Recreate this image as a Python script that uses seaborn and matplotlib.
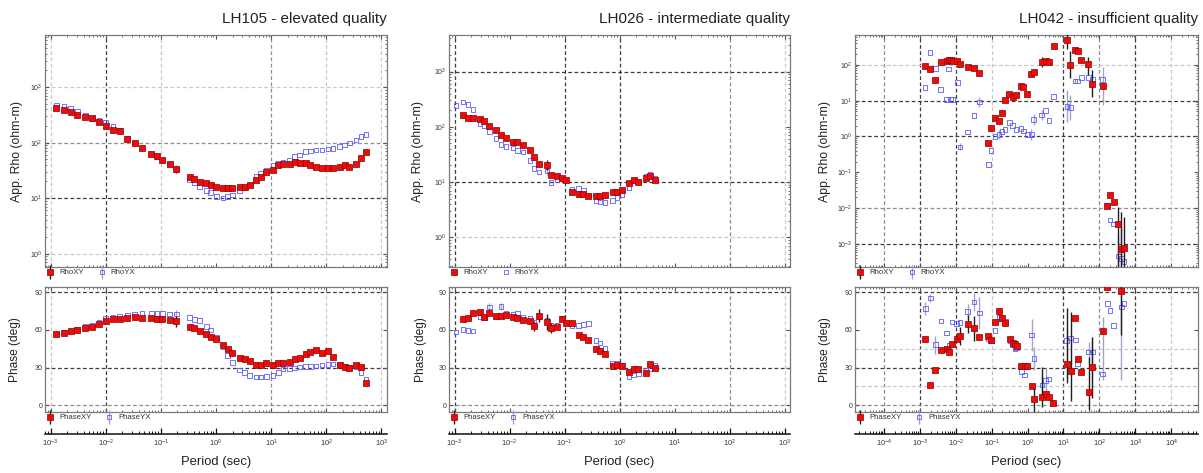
import numpy as np
import pandas as pd
import matplotlib
matplotlib.use("Agg")
import matplotlib.pyplot as plt
import seaborn as sns
from matplotlib.lines import Line2D
from matplotlib.legend_handler import HandlerTuple
from matplotlib.ticker import LogLocator, NullFormatter, FixedLocator

# ---- data --------------------------------------------------------------
# periods are stored as log10(T [s]), apparent resistivity as log10(ohm-m)

# LH105 - elevated quality
lh105_logT = [-2.894, -2.755, -2.634, -2.513, -2.368, -2.242, -2.121, -2.0, -1.867, -1.746,
              -1.607, -1.475, -1.342, -1.173, -1.07, -0.973, -0.841, -0.72, -0.478, -0.394,
              -0.297, -0.176, -0.098, 0.005, 0.126, 0.21, 0.295, 0.428, 0.518, 0.609,
              0.729, 0.808, 0.911, 1.031, 1.128, 1.213, 1.333, 1.424, 1.514, 1.623,
              1.708, 1.816, 1.925, 2.028, 2.118, 2.239, 2.33, 2.42, 2.541, 2.632, 2.722]
lh105_rho_xy = [2.622, 2.58, 2.55, 2.50, 2.465, 2.44, 2.375, 2.30, 2.22, 2.21,
                2.075, 1.99, 1.907, 1.793, 1.751, 1.685, 1.613, 1.517, 1.384, 1.348,
                1.30, 1.27, 1.24, 1.198, 1.18, 1.18, 1.18, 1.198, 1.21, 1.234,
                1.336, 1.39, 1.48, 1.51, 1.589, 1.607, 1.607, 1.649, 1.631, 1.625,
                1.595, 1.559, 1.547, 1.547, 1.535, 1.559, 1.595, 1.559, 1.619, 1.727, 1.823]
lh105_rho_yx = [2.682, 2.652, 2.616, 2.562, 2.489, 2.441, 2.399, 2.363, 2.291, 2.231,
                2.075, 1.991, 1.907, 1.799, 1.751, 1.685, 1.613, 1.529, 1.33, 1.282,
                1.21, 1.138, 1.102, 1.03, 1.0, 1.03, 1.06, 1.138, 1.186, 1.234,
                1.39, 1.45, 1.51, 1.60, 1.631, 1.643, 1.691, 1.751, 1.781, 1.841,
                1.853, 1.871, 1.871, 1.883, 1.895, 1.931, 1.961, 1.991, 2.051, 2.111, 2.147]
lh105_phs_xy = [56.6, 57.6, 58.7, 59.5, 61.6, 62.1, 64.7, 66.8, 68.2, 68.4,
                69.7, 70.3, 69.7, 69.2, 68.9, 68.4, 67.6, 66.8, 62.1, 61.1,
                59.2, 56.6, 54.5, 52.6, 47.9, 44.7, 41.8, 37.6, 36.6, 35.3,
                32.1, 32.1, 33.4, 31.8, 33.4, 33.4, 34.7, 37.1, 37.9, 40.8,
                42.6, 43.7, 41.3, 42.9, 38.7, 32.4, 30.5, 29.5, 31.8, 30.5, 17.9]
lh105_phs_yx = [56.6, 57.9, 59.2, 60.3, 62.4, 63.7, 65.8, 69.0, 70.3, 70.8,
                71.8, 72.4, 72.9, 72.9, 72.9, 72.9, 72.4, 72.4, 69.7, 68.4,
                67.6, 62.4, 59.7, 53.9, 46.6, 39.5, 34.2, 28.2, 26.0, 23.7,
                22.4, 22.4, 22.9, 23.7, 26.3, 28.9, 29.2, 29.7, 30.3, 30.8,
                30.8, 31.3, 32.1, 32.4, 32.9, 32.4, 31.3, 30.3, 30.3, 26.3, 21.0]
# error bars: {index: err} or {index: (lower, upper)}; rho in decades, phase in degrees
lh105_rho_xy_err = {17: 0.07}
lh105_rho_yx_err = {17: 0.06}
lh105_phs_xy_err = {17: 4.5}
lh105_phs_yx_err = {17: 3.0}

# LH026 - intermediate quality
lh026_logT = [-2.970, -2.848, -2.758, -2.667, -2.533, -2.455, -2.364, -2.242, -2.158, -2.067,
              -1.939, -1.855, -1.758, -1.624, -1.552, -1.461, -1.321, -1.248, -1.139, -1.048,
              -0.970, -0.867, -0.745, -0.655, -0.564, -0.424, -0.352, -0.261, -0.127, -0.048,
              0.042, 0.170, 0.255, 0.345, 0.479, 0.558, 0.648]
lh026_rho_xy = [np.nan, 2.207, 2.165, 2.159, 2.147, 2.105, 2.009, 1.943, 1.847, 1.793,
                1.721, 1.721, 1.667, 1.577, 1.456, 1.324, 1.312, 1.132, 1.108, 1.078,
                1.036, 0.826, 0.784, 0.784, 0.754, 0.742, 0.742, 0.760, 0.826, 0.826,
                0.856, 0.976, 1.03, 1.0, 1.078, 1.108, 1.03]
lh026_rho_yx = [2.381, 2.447, 2.405, 2.309, 2.057, 2.027, 1.919, 1.787, 1.685, 1.649,
                1.619, 1.577, 1.547, 1.396, 1.246, 1.186, 1.204, 0.988, 1.036, 1.066,
                1.036, 0.868, 0.88, 0.844, 0.748, 0.664, 0.640, 0.634, 0.664, 0.724,
                0.778, 0.898, 1.018, 1.0, 1.114, 1.144, 1.066]
lh026_phs_xy = [np.nan, 68.3, 69.4, 73.6, 74.4, 70.2, 73.6, 70.7, 71.2, 71.5,
                70.2, 69.4, 68.1, 67.0, 63.3, 71.2, 66.2, 61.7, 62.5, 68.9,
                65.4, 65.4, 55.7, 54.4, 52.2, 44.6, 43.3, 40.4, 30.9, 31.9,
                31.4, 26.6, 28.5, 28.5, 25.9, 33.2, 29.8]
lh026_phs_yx = [58.3, 60.2, 59.6, 59.1, 70.2, 69.7, 78.1, 70.7, 78.6, 72.8,
                72.3, 73.4, 70.2, 68.9, 66.2, 70.2, 67.5, 63.6, 63.6, 68.9,
                65.4, 63.1, 63.6, 64.4, 64.9, 51.7, 49.6, 45.1, 33.2, 33.2,
                31.9, 22.7, 24.0, 25.3, 28.0, 29.3, 31.9]
lh026_rho_xy_err = {14: 0.06, 16: 0.09}
lh026_rho_yx_err = {16: 0.08}
lh026_phs_xy_err = {14: 4.0, 15: 5.0, 16: 6.5, 17: 4.0}
lh026_phs_yx_err = {6: 3.0, 8: 3.0}

# LH042 - insufficient quality
lh042_logT = [-2.862, -2.723, -2.574, -2.426, -2.258, -2.203, -2.147, -2.091, -1.961, -1.887,
              -1.673, -1.496, -1.348, -1.097, -1.022, -0.911, -0.799, -0.716, -0.632, -0.511,
              -0.418, -0.325, -0.186, -0.121, -0.009, 0.102, 0.167, 0.390, 0.502, 0.595,
              0.725, 1.097, 1.190, 1.320, 1.394, 1.496, 1.691, 1.803, 2.091, 2.221,
              2.296, 2.398, 2.528, 2.612, 2.686]
lh042_rho_xy = [1.972, 1.879, 1.564, 2.065, 2.093, 2.139, 2.121, 2.093, 2.102, 2.028,
                1.926, 1.907, 1.777, -0.171, 0.247, 0.525, 0.442, 0.664, 1.017, 1.174,
                1.091, 1.156, 1.416, 1.388, 1.174, 1.740, 1.805, 2.074, 2.102, 2.074,
                2.510, 2.696, 2.0, 2.417, 2.380, 2.121, 2.028, 1.471, 1.416, -1.942,
                -1.646, -1.822, -2.443, -3.138, -3.102]
lh042_rho_yx = [1.36, 2.34, 1.89, 1.31, 1.03, 1.88, 1.03, 1.03, 1.50, -0.29,
                0.126, 0.59, 0.961, -0.774, -0.384, 0.006, 0.06, 0.145, 0.2, 0.386,
                0.302, 0.19, 0.219, 0.15, 0.052, 0.052, 0.469, 0.60, 0.73, 0.451,
                1.119, 0.840, 0.803, 1.55, 1.545, 1.638, 1.638, 1.592, 1.592, -1.915,
                -2.33, -2.44, -3.33, -3.40, -3.49]
lh042_rho_xy_err = {27: 0.13, 31: 0.25, 32: 0.37, 36: (0.32, 0.19), 37: 0.37,
                    42: (6, 0.48), 43: (6, 1.04), 44: (6, 0.86)}
lh042_rho_yx_err = {9: 0.1, 12: 0.15, 16: 0.12, 25: 0.15, 26: 0.15, 27: 0.15, 31: (0.43, 0.45),
                    32: 0.35, 38: (0.72, 0.34), 42: (6, 0.6), 43: (6, 0.9)}
lh042_ph_logT = [-2.853, -2.714, -2.574, -2.416, -2.258, -2.193, -2.110, -1.980, -1.887, -1.673,
                 -1.496, -1.348, -1.097, -1.013, -0.911, -0.790, -0.716, -0.623, -0.493, -0.418,
                 -0.353, -0.307, -0.177, -0.084, -0.009, 0.112, 0.177, 0.400, 0.502, 0.586,
                 0.716, 1.087, 1.199, 1.329, 1.394, 1.487, 1.701, 1.803, 2.091, 2.221,
                 2.30, 2.40, 2.612, 2.69]
lh042_phs_xy = [52.8, 16.4, 28.0, 43.8, 45.1, 42.7, 48.5, 52.8, 55.1, 64.4,
                61.2, 54.6, 55.1, 51.5, 66.5, 74.9, 69.1, 65.7, 52.8, 49.9,
                48.5, 47.2, 31.4, 31.4, 31.4, 15.0, 5.3, 6.6, 9.2, 6.6,
                1.8, 32.7, 27.4, 69.1, 36.7, 26.6, 10.3, 30.1, 59.1, 94.2,
                np.nan, np.nan, 90.8, np.nan]
lh042_phs_yx = [76.7, 85.2, 48.1, 66.9, 57.4, 47.6, 66.1, 64.8, 66.0, 74.6,
                82.0, 73.3, 53.0, 51.5, 59.5, 70.1, 69.0, 66.5, 51.5, 48.0,
                45.0, 45.5, 27.0, 24.0, np.nan, 56.0, 37.0, 16.0, 19.5, 21.0,
                np.nan, 51.6, 53.5, 52.0, 33.0, np.nan, 42.3, 42.3, 25.0, 80.7,
                75.4, 63.5, 78.0, 80.7]
lh042_phs_xy_err = {8: 7, 9: 7, 10: 10, 26: 12, 27: (8, 24), 31: (15, 45), 32: (24, 47),
                    36: (14, 28), 37: 24, 42: (35, 5)}
lh042_phs_yx_err = {0: 5, 1: 3, 2: 7, 9: 6, 10: 7, 11: 13, 15: 4, 25: 12.5, 26: 9, 27: 8,
                    28: 10, 31: (30, 10), 36: 8, 37: (20, 10), 38: (5, 45), 42: (58, 10)}

titles = ["LH105 - elevated quality", "LH026 - intermediate quality", "LH042 - insufficient quality"]

# ---- style ---------------------------------------------------------------
sns.set_style("ticks")
plt.rcParams['font.family'] = ['Liberation Sans', 'DejaVu Sans']
plt.rcParams['mathtext.fontset'] = 'custom'
plt.rcParams['mathtext.rm'] = 'Liberation Sans'
plt.rcParams['mathtext.it'] = 'Liberation Sans:italic'

RED, RED_EDGE, BLUE = '#f00a0a', '#8a0000', '#5c5cff'
XY_BAR, YX_BAR = '#1e1e1e', '#a4a4c4'
GRID = {'dark': '#3c3c3c', 'mid': '#8e8e8e', 'light': '#c9c9c9'}
TXT = '#333333'

W, H = 1203, 473
fig = plt.figure(figsize=(W / 100, H / 100), dpi=100)


def bounds(vals, err, log):
    v = np.asarray(vals, float)
    lo, hi = np.zeros(len(v)), np.zeros(len(v))
    for i, e in err.items():
        lo[i], hi[i] = (e, e) if np.isscalar(e) else e
    if log:
        y = 10 ** v
        return y, np.vstack([y - y * 10 ** (-lo), y * 10 ** hi - y])
    return v, np.vstack([lo, hi])


def draw(ax, logT, vals, err, log, comp):
    x = 10 ** np.asarray(logT, float)
    y, yerr = bounds(vals, err, log)
    if comp == 'yx':
        ax.errorbar(x, y, yerr=yerr, fmt='none', ecolor=YX_BAR, elinewidth=1.0, capsize=0, zorder=2)
    else:
        ax.errorbar(x, y, yerr=yerr, fmt='none', ecolor=XY_BAR, elinewidth=1.0, capsize=0, zorder=4)
    df = pd.DataFrame({'period': x, 'value': y}).dropna()
    if comp == 'yx':
        sns.scatterplot(data=df, x='period', y='value', ax=ax, marker='s', s=11,
                        facecolors='none', edgecolor=BLUE, linewidth=0.6, zorder=3, legend=False)
    else:
        sns.scatterplot(data=df, x='period', y='value', ax=ax, marker='s', s=16,
                        color=RED, edgecolor=RED_EDGE, linewidth=0.5, zorder=5, legend=False)
    ax.set_xlabel('')
    ax.set_ylabel('')


def gridlines(ax, vlines, hlines, log_y):
    for lvl, vals in vlines.items():
        for v in vals:
            ax.axvline(10.0 ** v, color=GRID[lvl], lw=0.9, ls=(0, (3, 2)), zorder=0.5)
    for lvl, vals in hlines.items():
        for v in vals:
            ax.axhline(10.0 ** v if log_y else v, color=GRID[lvl], lw=0.9, ls=(0, (3, 2)), zorder=0.5)


def decade_ticks(axis, lim):
    lo, hi = int(np.ceil(lim[0])), int(np.floor(lim[1]))
    axis.set_major_locator(FixedLocator(10.0 ** np.arange(lo, hi + 1)))
    axis.set_minor_locator(LogLocator(base=10, subs=np.arange(2, 10), numticks=30))
    axis.set_minor_formatter(NullFormatter())


def frame(ax):
    for s in ax.spines.values():
        s.set_color('#7a7a7a')
        s.set_linewidth(0.9)
    ax.tick_params(which='both', direction='in', top=True, right=True, labelbottom=False,
                   color='#555555', labelcolor=TXT, labelsize=5.0, pad=2)
    ax.tick_params(which='major', length=3)
    ax.tick_params(which='minor', length=1.6)


def legend(ax, names, with_bar, y):
    hs = []
    for comp, bar in zip(['xy', 'yx'], with_bar):
        if comp == 'xy':
            mk = Line2D([], [], marker='s', ls='', ms=4.0, mfc=RED, mec=RED_EDGE, mew=0.5)
            vb = Line2D([], [], marker='|', ls='', ms=10, color=XY_BAR, mew=1.0)
        else:
            mk = Line2D([], [], marker='s', ls='', ms=3.3, mfc='none', mec=BLUE, mew=0.6)
            vb = Line2D([], [], marker='|', ls='', ms=10, color=YX_BAR, mew=1.0)
        hs.append((vb, mk) if bar else mk)
    ax.legend(hs, names, handler_map={tuple: HandlerTuple(ndivide=1)}, loc='upper left',
              bbox_to_anchor=(0.0, y), ncol=2, frameon=False, fontsize=5.6, labelcolor=TXT,
              handlelength=1.0, handletextpad=0.7, columnspacing=1.8, borderaxespad=0, borderpad=0.1)


panels = [
    dict(left=45, width=342, title=titles[0], xlim=(-3.1, 3.1), rylim=(-0.24, 3.94),
         logT=lh105_logT, rxy=lh105_rho_xy, ryx=lh105_rho_yx, rxy_e=lh105_rho_xy_err, ryx_e=lh105_rho_yx_err,
         plogT=lh105_logT, pxy=lh105_phs_xy, pyx=lh105_phs_yx, pxy_e=lh105_phs_xy_err, pyx_e=lh105_phs_yx_err,
         vgrid={'dark': [-2], 'mid': [1], 'light': [-3, -1, 2, 3]},
         rgrid={'dark': [1], 'mid': [2], 'light': [0, 3]},
         pgrid={'dark': [90, 30], 'mid': [0]}, rbar=(True, True), lab_r=17, lab_p=15),
    dict(left=449, width=341, title=titles[1], xlim=(-3.1, 3.1), rylim=(-0.535, 3.66),
         logT=lh026_logT, rxy=lh026_rho_xy, ryx=lh026_rho_yx, rxy_e=lh026_rho_xy_err, ryx_e=lh026_rho_yx_err,
         plogT=lh026_logT, pxy=lh026_phs_xy, pyx=lh026_phs_yx, pxy_e=lh026_phs_xy_err, pyx_e=lh026_phs_yx_err,
         vgrid={'dark': [-3, -1, 0], 'mid': [2], 'light': [3]},
         rgrid={'dark': [3, 1], 'light': [0]},
         pgrid={'dark': [90, 30], 'mid': [0]}, rbar=(False, False), lab_r=418, lab_p=421),
    dict(left=855, width=343, title=titles[2], xlim=(-4.81, 4.75), rylim=(-3.64, 2.83),
         logT=lh042_logT, rxy=lh042_rho_xy, ryx=lh042_rho_yx, rxy_e=lh042_rho_xy_err, ryx_e=lh042_rho_yx_err,
         plogT=lh042_ph_logT, pxy=lh042_phs_xy, pyx=lh042_phs_yx, pxy_e=lh042_phs_xy_err, pyx_e=lh042_phs_yx_err,
         vgrid={'dark': [-3, -2, 1, 3], 'mid': [-4, 2], 'light': [-1, 4]},
         rgrid={'dark': [1, 0, -3], 'mid': [-2], 'light': [2]},
         pgrid={'dark': [90, 30], 'mid': [0], 'light': [45, 15]}, rbar=(True, True), lab_r=825, lab_p=825),
]

for p in panels:
    l, w = p['left'] / W, p['width'] / W
    xlim = (10 ** p['xlim'][0], 10 ** p['xlim'][1])

    # apparent resistivity
    ax_r = fig.add_axes([l, 1 - 267 / H, w, 232 / H])
    ax_r.set_xscale('log')
    ax_r.set_yscale('log')
    gridlines(ax_r, p['vgrid'], p['rgrid'], True)
    draw(ax_r, p['logT'], p['ryx'], p['ryx_e'], True, 'yx')
    draw(ax_r, p['logT'], p['rxy'], p['rxy_e'], True, 'xy')
    ax_r.set_xlim(xlim)
    ax_r.set_ylim(10 ** p['rylim'][0], 10 ** p['rylim'][1])
    decade_ticks(ax_r.yaxis, p['rylim'])
    decade_ticks(ax_r.xaxis, p['xlim'])
    frame(ax_r)
    legend(ax_r, ['RhoXY', 'RhoYX'], p['rbar'], -0.005)

    # phase
    ax_p = fig.add_axes([l, 1 - 412 / H, w, 125 / H])
    ax_p.set_xscale('log')
    gridlines(ax_p, p['vgrid'], p['pgrid'], False)
    draw(ax_p, p['plogT'], p['pyx'], p['pyx_e'], False, 'yx')
    draw(ax_p, p['plogT'], p['pxy'], p['pxy_e'], False, 'xy')
    ax_p.set_xlim(xlim)
    ax_p.set_ylim(-5.3, 94)
    ax_p.yaxis.set_major_locator(FixedLocator([0, 30, 60, 90]))
    decade_ticks(ax_p.xaxis, p['xlim'])
    frame(ax_p)
    legend(ax_p, ['PhaseXY', 'PhaseYX'], (True, True), -0.01)

    # detached period axis
    ax_b = fig.add_axes([l, 1 - 434 / H, w, 0.0001])
    ax_b.set_xscale('log')
    ax_b.set_xlim(xlim)
    for s in ['left', 'right', 'top']:
        ax_b.spines[s].set_visible(False)
    ax_b.spines['bottom'].set_color('#111111')
    ax_b.spines['bottom'].set_linewidth(1.1)
    ax_b.set_yticks([])
    decade_ticks(ax_b.xaxis, p['xlim'])
    ax_b.tick_params(axis='x', which='both', direction='in', color='#111111',
                     labelcolor=TXT, labelsize=5.4, pad=3)
    ax_b.tick_params(axis='x', which='major', length=4, width=0.9)
    ax_b.tick_params(axis='x', which='minor', length=2.4, width=0.7)

    # texts
    cx = (p['left'] + p['width'] / 2) / W
    fig.text((p['left'] + p['width']) / W, 1 - 19 / H, p['title'], ha='right', va='center',
             fontsize=11, color='#222222')
    fig.text(p['lab_r'] / W, 1 - 151 / H, 'App. Rho (ohm-m)', rotation=90, ha='center',
             va='center', fontsize=8.8, color='#222222')
    fig.text(p['lab_p'] / W, 1 - 350 / H, 'Phase (deg)', rotation=90, ha='center',
             va='center', fontsize=8.6, color='#222222')
    fig.text(cx, 1 - 462 / H, 'Period (sec)', ha='center', va='center', fontsize=9.4,
             color='#222222')

fig.savefig('out.png', dpi=100)
